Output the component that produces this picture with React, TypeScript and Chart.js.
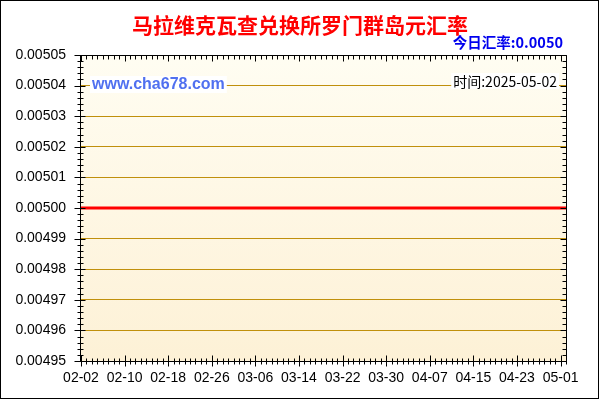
import { useEffect, useRef } from "react";
import { Chart, registerables } from "chart.js";
import type { Plugin, ChartConfiguration } from "chart.js";

Chart.register(...registerables);

const TITLE = "马拉维克瓦查兑换所罗门群岛元汇率";
const TODAY_RATE = "今日汇率:0.0050";
const SITE = "www.cha678.com";
const DATE_NOTE = "时间:2025-05-02";

// one category per day
const DAYS = [
  "02-02", "02-03", "02-04", "02-05", "02-06", "02-07", "02-08", "02-09", "02-10", "02-11",
  "02-12", "02-13", "02-14", "02-15", "02-16", "02-17", "02-18", "02-19", "02-20", "02-21",
  "02-22", "02-23", "02-24", "02-25", "02-26", "02-27", "02-28", "03-01", "03-02", "03-03",
  "03-04", "03-05", "03-06", "03-07", "03-08", "03-09", "03-10", "03-11", "03-12", "03-13",
  "03-14", "03-15", "03-16", "03-17", "03-18", "03-19", "03-20", "03-21", "03-22", "03-23",
  "03-24", "03-25", "03-26", "03-27", "03-28", "03-29", "03-30", "03-31", "04-01", "04-02",
  "04-03", "04-04", "04-05", "04-06", "04-07", "04-08", "04-09", "04-10", "04-11", "04-12",
  "04-13", "04-14", "04-15", "04-16", "04-17", "04-18", "04-19", "04-20", "04-21", "04-22",
  "04-23", "04-24", "04-25", "04-26", "04-27", "04-28", "04-29", "04-30", "05-01", "05-02",
];

const RATES = [
  0.005, 0.005, 0.005, 0.005, 0.005, 0.005, 0.005, 0.005, 0.005, 0.005,
  0.005, 0.005, 0.005, 0.005, 0.005, 0.005, 0.005, 0.005, 0.005, 0.005,
  0.005, 0.005, 0.005, 0.005, 0.005, 0.005, 0.005, 0.005, 0.005, 0.005,
  0.005, 0.005, 0.005, 0.005, 0.005, 0.005, 0.005, 0.005, 0.005, 0.005,
  0.005, 0.005, 0.005, 0.005, 0.005, 0.005, 0.005, 0.005, 0.005, 0.005,
  0.005, 0.005, 0.005, 0.005, 0.005, 0.005, 0.005, 0.005, 0.005, 0.005,
  0.005, 0.005, 0.005, 0.005, 0.005, 0.005, 0.005, 0.005, 0.005, 0.005,
  0.005, 0.005, 0.005, 0.005, 0.005, 0.005, 0.005, 0.005, 0.005, 0.005,
  0.005, 0.005, 0.005, 0.005, 0.005, 0.005, 0.005, 0.005, 0.005, 0.005,
];

// labelled x ticks
const X_TICK_LABELS = ["02-02", "02-10", "02-18", "02-26", "03-06", "03-14", "03-22", "03-30", "04-07", "04-15", "04-23", "05-01"];

const Y_MIN = 0.00495;
const Y_MAX = 0.00505;
const Y_STEP = 0.00001;

const GOLD = "#c0900c";
const LABEL_FONT = "'Liberation Sans', Arial, sans-serif";
const CJK_FONT = "'Noto Sans CJK SC', sans-serif";

const framePlugin: Plugin<"line"> = {
  id: "frame",
  beforeDraw(chart) {
    const { ctx, chartArea: a } = chart;
    const g = ctx.createLinearGradient(0, a.top, 0, a.bottom);
    g.addColorStop(0, "#fffdf2");
    g.addColorStop(1, "#fdf1d6");
    ctx.save();
    ctx.fillStyle = g;
    ctx.fillRect(a.left, a.top, a.right - a.left, a.bottom - a.top);
    ctx.restore();
  },
  afterDraw(chart) {
    const { ctx, chartArea: a } = chart;
    const xs = chart.scales.x;
    const ys = chart.scales.y;
    const L = Math.round(a.left) - 0.5;
    const R = Math.round(a.right) + 0.5;
    const T = Math.round(a.top) + 0.5;
    const B = Math.round(a.bottom) + 0.5;
    ctx.save();

    // watermark + date note, on white boxes
    ctx.textBaseline = "middle";
    ctx.font = `bold 16px ${LABEL_FONT}`;
    const sw = ctx.measureText(SITE).width;
    ctx.fillStyle = "#ffffff";
    ctx.fillRect(90, 76, sw + 4, 17);
    ctx.fillStyle = "#5070f0";
    ctx.textAlign = "left";
    ctx.fillText(SITE, 92, 84.5);

    ctx.font = `14px ${CJK_FONT}`;
    const dw = ctx.measureText(DATE_NOTE).width;
    ctx.fillStyle = "#ffffff";
    ctx.fillRect(557 - dw - 2, 73, dw + 4, 16);
    ctx.fillStyle = "#000000";
    ctx.textAlign = "right";
    ctx.fillText(DATE_NOTE, 557, 81.5);

    // today's rate
    ctx.font = `bold 14.5px ${CJK_FONT}`;
    ctx.fillStyle = "#0000ee";
    ctx.fillText(TODAY_RATE, 563, 42.5);

    // plot frame
    ctx.strokeStyle = "#000000";
    ctx.lineWidth = 1;
    ctx.beginPath();
    ctx.rect(L, T, R - L, B - T);

    const steps = Math.round((Y_MAX - Y_MIN) / (Y_STEP / 5));
    for (let k = 0; k <= steps; k++) {
      const y = Math.round(ys.getPixelForValue(Y_MIN + (k * Y_STEP) / 5)) + 0.5;
      const major = k % 5 === 0;
      ctx.moveTo(L - (major ? 6 : 3), y);
      ctx.lineTo(L + (major ? 5 : 3), y);
      ctx.moveTo(R - (major ? 6 : 4), y);
      ctx.lineTo(R, y);
    }
    for (let i = 0; i < DAYS.length; i++) {
      const x = Math.round(xs.getPixelForTick(i)) + 0.5;
      const major = i % 8 === 0;
      ctx.moveTo(x, B - (major ? 6 : 3));
      ctx.lineTo(x, B + (major ? 5 : 3));
      ctx.moveTo(x, T);
      ctx.lineTo(x, T + (major ? 6 : 4));
    }
    ctx.stroke();

    // outer border
    ctx.strokeRect(0.5, 0.5, 598, 398);
    ctx.restore();
  },
};

export default function App() {
  const canvasRef = useRef<HTMLCanvasElement | null>(null);
  const chartRef = useRef<Chart | null>(null);

  useEffect(() => {
    if (!canvasRef.current) return;
    if (chartRef.current) chartRef.current.destroy();

    const config: ChartConfiguration<"line"> = {
      type: "line",
      data: {
        labels: DAYS,
        datasets: [
          {
            label: "汇率",
            data: RATES,
            borderColor: "#ff0000",
            borderWidth: 3,
            pointRadius: 0,
            tension: 0,
            fill: false,
          },
        ],
      },
      options: {
        responsive: false,
        animation: false,
        devicePixelRatio: 1,
        layout: { padding: 0 },
        plugins: {
          legend: { display: false },
          tooltip: { enabled: false },
          title: {
            display: true,
            text: TITLE,
            color: "#ff0000",
            font: { family: CJK_FONT, size: 21, weight: "bold", lineHeight: 1.2 },
            padding: { top: 12, bottom: 17.8 },
          },
        },
        scales: {
          x: {
            type: "category",
            grid: { display: false, drawTicks: false },
            border: { display: false },
            ticks: {
              autoSkip: false,
              maxRotation: 0,
              minRotation: 0,
              padding: 9,
              color: "#000000",
              font: { family: LABEL_FONT, size: 14 },
              callback: (_v, i) => (X_TICK_LABELS.includes(DAYS[i]) && i % 8 === 0 ? DAYS[i] : ""),
            },
            afterFit: (s) => {
              s.height = 39;
            },
          },
          y: {
            type: "linear",
            min: Y_MIN,
            max: Y_MAX,
            grid: {
              drawTicks: false,
              color: (c) => (c.index === 0 || c.index === 10 ? "rgba(0,0,0,0)" : GOLD),
            },
            border: { display: false },
            ticks: {
              stepSize: Y_STEP,
              padding: 15,
              color: "#000000",
              font: { family: LABEL_FONT, size: 14 },
              callback: (v) => Number(v).toFixed(5),
            },
            afterFit: (s) => {
              s.width = 81;
            },
          },
          yRight: {
            type: "linear",
            position: "right",
            grid: { display: false, drawTicks: false },
            border: { display: false },
            ticks: { display: false },
            afterFit: (s) => {
              s.width = 34;
            },
          },
        },
      },
      plugins: [framePlugin],
    };

    chartRef.current = new Chart(canvasRef.current, config);
    return () => {
      chartRef.current?.destroy();
      chartRef.current = null;
    };
  }, []);

  return (
    <div style={{ position: "absolute", left: 0, top: 0, width: 600, height: 400, background: "#ffffff" }}>
      <canvas ref={canvasRef} width={600} height={400} />
    </div>
  );
}
